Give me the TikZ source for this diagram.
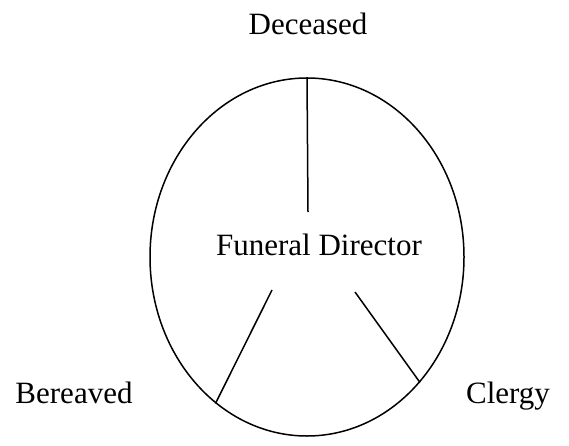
\documentclass[tikz,border=0pt]{standalone}
\usepackage{fontspec}
\setmainfont{Liberation Serif}
\usetikzlibrary{shapes.geometric}
\tikzset{
  lbl/.style={anchor=base,inner sep=0pt,font=\fontsize{31}{37}\selectfont},
  wire/.style={line width=1.5pt}
}

\begin{document}
\begin{tikzpicture}[x=1pt,y=-1pt]
  \useasboundingbox (0,0) rectangle (569,446);
  \node[ellipse,draw,line width=1.5pt,minimum width=314pt,minimum height=358pt,inner sep=0pt] (ring) at (307,257) {};
  \node[lbl] (deceased) at (308,35) {Deceased};
  \node[lbl] (director) at (319,255) {Funeral Director};
  \node[lbl] (bereaved) at (74,403) {Bereaved};
  \node[lbl] (clergy) at (508,403) {Clergy};
  \coordinate (top) at (308,212);
  \coordinate (left) at (272,290);
  \coordinate (right) at (355,292);
  \draw[wire] (ring.north) -- (top);
  \draw[wire] (left) -- (ring.238.6);
  \draw[wire] (right) -- (ring.-48.4);
\end{tikzpicture}
\end{document}
